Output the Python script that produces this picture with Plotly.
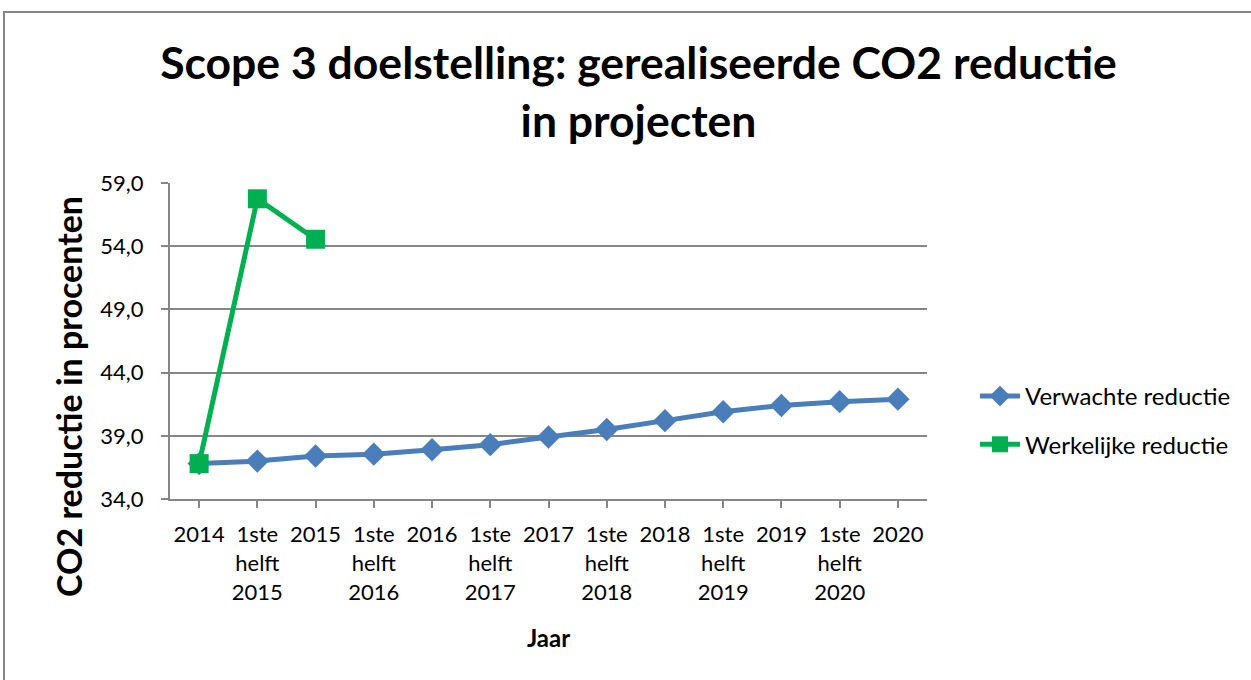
import plotly.graph_objects as go

categories = ["2014", "1ste<br>helft<br>2015", "2015", "1ste<br>helft<br>2016", "2016",
              "1ste<br>helft<br>2017", "2017", "1ste<br>helft<br>2018", "2018",
              "1ste<br>helft<br>2019", "2019", "1ste<br>helft<br>2020", "2020"]
verwachte = [36.8, 37.0, 37.4, 37.55, 37.9, 38.3, 38.9, 39.5, 40.2, 40.9, 41.4, 41.7, 41.9]
werkelijke = [36.8, 57.75, 54.55]

FONT = "Lato"
x_idx = list(range(len(categories)))

fig = go.Figure()
fig.add_trace(go.Scatter(
    x=x_idx, y=verwachte, name="Verwachte reductie", mode="lines+markers",
    line=dict(color="#4A7EBB", width=5),
    marker=dict(symbol="diamond", size=18, color="#4A7EBB"),
    legendgroup="a"))
fig.add_trace(go.Scatter(
    x=x_idx[:len(werkelijke)], y=werkelijke, name="Werkelijke reductie", mode="lines+markers",
    line=dict(color="#00B050", width=5),
    marker=dict(symbol="square", size=19, color="#00B050"),
    legendgroup="b"))

fig.update_layout(
    width=1251, height=680,
    paper_bgcolor="white", plot_bgcolor="white",
    separators=",.",
    font=dict(family=FONT, size=22, color="black"),
    margin=dict(l=170, r=324, t=183, b=181, autoexpand=False),
    title=dict(text="<b>Scope 3 doelstelling: gerealiseerde CO2 reductie<br>in projecten</b>",
               x=638.5 / 1251, xanchor="center", y=1 - 79 / 680, yanchor="middle",
               font=dict(family=FONT, size=44.5, color="black")),
    legend=dict(x=(975 - 170) / 757, xanchor="left", y=(499 - 420.5) / 316, yanchor="middle",
                font=dict(family=FONT, size=24, color="black"),
                traceorder="grouped", tracegroupgap=14, itemwidth=40),
    showlegend=True,
)
fig.update_xaxes(
    range=[-0.5, len(categories) - 0.5],
    tickmode="array", tickvals=x_idx, ticktext=categories,
    tickson="boundaries", ticks="outside", ticklen=7, tickcolor="#868686", tickwidth=2,
    showline=True, linecolor="#868686", linewidth=2,
    showgrid=False, zeroline=False,
    ticklabelstandoff=8,
    tickfont=dict(family=FONT, size=22, color="black"),
    title=dict(text="<b>Jaar</b>", font=dict(family=FONT, size=24, color="black"), standoff=27),
)
fig.update_yaxes(
    range=[34, 59], tick0=34, dtick=5, tickformat=".1f",
    ticks="outside", ticklen=7, tickcolor="#868686", tickwidth=2,
    showline=True, linecolor="#868686", linewidth=2,
    showgrid=True, gridcolor="#868686", gridwidth=2, zeroline=False,
    ticklabelstandoff=13,
    tickfont=dict(family=FONT, size=22, color="black"),
)
fig.add_annotation(
    text="<b>CO2 reductie in procenten</b>", textangle=-90,
    xref="paper", yref="paper", x=(68 - 170) / 757, y=(499 - 397) / 316,
    xanchor="center", yanchor="middle", showarrow=False,
    font=dict(family=FONT, size=34, color="black"))
fig.add_shape(type="rect", xref="paper", yref="paper",
              x0=(4 - 170) / 757, x1=1.6, y0=-0.8, y1=(499 - 12) / 316,
              line=dict(color="#868686", width=2), fillcolor="rgba(0,0,0,0)", layer="below")

fig.write_html("out.html", config={"displayModeBar": False},
               post_script="document.body.style.margin='0';")
